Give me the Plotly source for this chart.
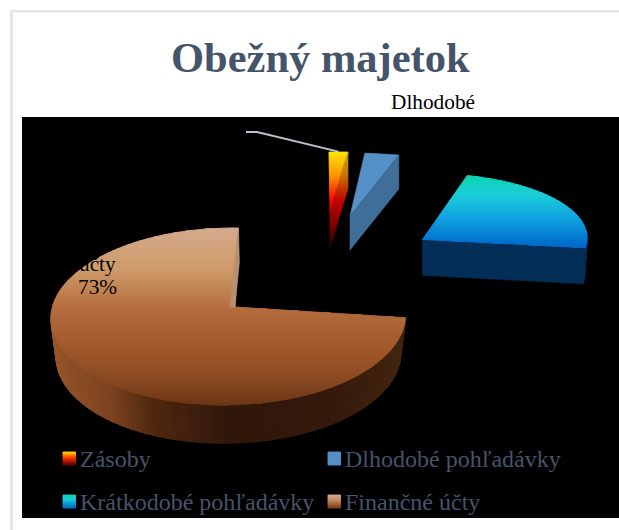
import math
import plotly.graph_objects as go

# ---- data ----
categories = ["Zásoby", "Dlhodobé pohľadávky", "Krátkodobé pohľadávky", "Finančné účty"]
shares = [1, 3, 23, 73]

# ---- styling / layout (pixel space of the 619x530 page) ----
W, H = 619, 530
TEXT = "#44546A"
SERIF = "Liberation Serif, Times New Roman, serif"

# per-slice projection: apex, radii, perspective, shear, depth, wall shrink
geom = [
    dict(ax=330, ay=212, rx=300, ry=60, k=0, m=0, s=-1, depth=36, shrink=1.0, shrink_y=1.0),
    dict(ax=350, ay=216, rx=183, ry=63, k=0, m=0, s=3.4, depth=34, shrink=1.0, shrink_y=1.0),
    dict(ax=422.5, ay=239.5, rx=164.5, ry=66, k=0, m=0, s=4, depth=36, shrink=0.985, shrink_y=0.985),
    dict(ax=235, ay=307, rx=176, ry=87.5, k=0.107, m=0.035, s=3.8, depth=38, shrink=0.972, shrink_y=1.0),
]
top_stops = [
    [(152, "#FFE600"), (175, "#FF9800"), (200, "#FF0800"), (230, "#8E0000"), (248, "#2A0000")],
    [(0, "#5590C6"), (999, "#5590C6")],
    [(176, "#0BD3AE"), (195, "#1CCEDA"), (220, "#0FA0E0"), (245, "#006CCB")],
    [(228, "#D5AA8E"), (270, "#CE9B69"), (310, "#B46C3E"), (350, "#A0582A"), (380, "#8A4A22"), (405, "#6C3716")],
]
wall_stops = [
    [(0, "#000000"), (999, "#000000")],
    [(0, "#3F6F98"), (999, "#3F6F98")],
    [(420, "#022E58"), (480, "#012A53"), (590, "#002A55")],
    [(50, "#96552A"), (110, "#7C4220"), (150, "#502810"), (230, "#2F170A"), (330, "#36190B"), (405, "#42260F")],
]


def hex2rgb(c):
    return tuple(int(c[i:i + 2], 16) for i in (1, 3, 5))


def ramp(stops, p):
    if p <= stops[0][0]:
        return stops[0][1]
    for (p0, c0), (p1, c1) in zip(stops, stops[1:]):
        if p <= p1:
            f = (p - p0) / (p1 - p0)
            a, b = hex2rgb(c0), hex2rgb(c1)
            return "#%02X%02X%02X" % tuple(round(x + (y - x) * f) for x, y in zip(a, b))
    return stops[-1][1]


def project(g, deg, r=1.0, wall=False):
    u = r * math.sin(math.radians(deg))
    v = r * math.cos(math.radians(deg))
    w = 1 + g["k"] * v + g["m"] * u
    dx = (g["rx"] * u + g["s"] * v) / w
    dy = -g["ry"] * v / w
    if wall:
        return g["ax"] + dx * g["shrink"], g["ay"] + dy * g["shrink_y"] + g["depth"]
    return g["ax"] + dx, g["ay"] + dy


def clip_band(poly, y0, y1):
    def clip(points, inside, cross):
        out = []
        for a, b in zip(points, points[1:] + points[:1]):
            if inside(a):
                out.append(a)
            if inside(a) != inside(b):
                out.append(cross(a, b))
        return out

    def cross_at(y):
        return lambda a, b: (a[0] + (b[0] - a[0]) * (y - a[1]) / (b[1] - a[1]), y)

    res = clip(poly, lambda p: p[1] >= y0, cross_at(y0))
    if res:
        res = clip(res, lambda p: p[1] <= y1, cross_at(y1))
    return res


fig = go.Figure()


def add_poly(pts, color, name=None, lw=0.6):
    fig.add_trace(go.Scatter(
        x=[p[0] for p in pts] + [pts[0][0]], y=[p[1] for p in pts] + [pts[0][1]],
        mode="lines", fill="toself", fillcolor=color,
        line=dict(color=color, width=lw), hoverinfo="skip", showlegend=False, name=name,
    ))


def add_gradient(poly, stops, step=2, name=None):
    ys = [p[1] for p in poly]
    y = math.floor(min(ys))
    while y < max(ys):
        band = clip_band(poly, y, y + step)
        if len(band) >= 3:
            add_poly(band, ramp(stops, y + step / 2), name, lw=0.9)
        y += step


# angles of every slice come from the shares
starts, acc = [], 0.0
for v in shares:
    starts.append(acc)
    acc += v * 3.6

for i, (name, share) in enumerate(zip(categories, shares)):
    g = geom[i]
    a0, a1 = starts[i], starts[i] + share * 3.6
    n = max(3, int((a1 - a0) / 1.5))
    arc = [a0 + (a1 - a0) * j / n for j in range(n + 1)]
    top = [project(g, 0, 0)] + [project(g, t) for t in arc]

    if i == 0:
        # yellow-red sliver: side wall is a darker copy of the same ramp
        wall = [project(g, a1), project(g, a1, wall=True), project(g, 0, 0, wall=True), project(g, 0, 0)]
        dark = [(p, "#%02X%02X%02X" % tuple(int(x * 0.78) for x in hex2rgb(c))) for p, c in top_stops[0]]
        add_gradient(top, top_stops[0], 2, name)
        add_gradient(wall, dark, 2, name)
    elif i == 1:
        wall = [project(g, a1), project(g, a1, wall=True), project(g, 0, 0, wall=True), project(g, 0, 0)]
        add_poly(top, top_stops[1][0][1], name)
        add_poly(wall, wall_stops[1][0][1], name)
    else:
        visible = [t for t in arc if t <= 290]
        for t0, t1 in zip(visible, visible[1:]):
            q = [project(g, t0), project(g, t1), project(g, t1, wall=True), project(g, t0, wall=True)]
            add_poly(q, ramp(wall_stops[i], (q[0][0] + q[1][0]) / 2), name, lw=1.4)
        if i == 2:
            q = [project(g, 0, 0), project(g, a1), project(g, a1, wall=True), project(g, 0, 0, wall=True)]
            add_poly(q, wall_stops[2][0][1], name)
        add_gradient(top, top_stops[i], 2, name)
        if i == 3:
            # thin cut face next to the gap
            e = project(g, a1 - 0.01)
            c = project(g, 0, 0)
            add_poly([e, (e[0] + 1, e[1] + 34), c, (c[0] - 5, c[1])], "#B8906E", name)

# leader line of the Zásoby label
z = project(geom[0], starts[0] + 1.8)
fig.add_trace(go.Scatter(x=[246, 257, z[0]], y=[132, 132, z[1] - 0.5], mode="lines",
                         line=dict(color="#B9C3CF", width=1.8), hoverinfo="skip", showlegend=False))

# legend: gradient swatches with text
swatch_pos = [(63, 452), (328, 452), (63, 495), (328, 495)]
swatch_stops = [
    [(0, "#FFE600"), (0.5, "#FF3000"), (1, "#600000")],
    [(0, "#5590C6"), (1, "#5590C6")],
    [(0, "#0BD3AE"), (0.35, "#1CCEDA"), (1, "#006CCB")],
    [(0, "#D5AA8E"), (0.45, "#C08A60"), (1, "#7A3F1A")],
]
ann = []
for (sx, sy), st, name in zip(swatch_pos, swatch_stops, categories):
    scaled = [(sy + p * 13, c) for p, c in st]
    add_gradient([(sx, sy), (sx + 12.5, sy), (sx + 12.5, sy + 13), (sx, sy + 13)], scaled, 1, name)
    ann.append(dict(x=sx + 14.5, y=sy + 7, text=name, xanchor="left", yanchor="middle", showarrow=False,
                    font=dict(family=SERIF, size=24, color=TEXT)))

ann += [
    dict(x=320, y=57, text="<b>Obežný majetok</b>", showarrow=False, xanchor="center", yanchor="middle",
         font=dict(family=SERIF, size=42.5, color=TEXT)),
    dict(x=433, y=102, text="Dlhodobé", showarrow=False, xanchor="center", yanchor="middle",
         font=dict(family=SERIF, size=21.3, color="#000000")),
    dict(x=97, y=264, text="účty", showarrow=False, xanchor="center", yanchor="middle",
         font=dict(family=SERIF, size=21.3, color="#000000")),
    dict(x=97, y=287, text="73%", showarrow=False, xanchor="center", yanchor="middle",
         font=dict(family=SERIF, size=21.3, color="#000000")),
]

BORDER = "#E3E8EF"
fig.update_layout(
    width=W, height=H, margin=dict(l=0, r=0, t=0, b=0),
    paper_bgcolor="#FFFFFF", plot_bgcolor="#FFFFFF", showlegend=False,
    xaxis=dict(range=[0, W], visible=False, fixedrange=True),
    yaxis=dict(range=[H, 0], visible=False, fixedrange=True),
    annotations=ann,
    shapes=[
        dict(type="rect", x0=10, x1=13, y0=10, y1=H, fillcolor=BORDER, line_width=0, layer="below"),
        dict(type="rect", x0=10, x1=W, y0=10, y1=12.5, fillcolor=BORDER, line_width=0, layer="below"),
        dict(type="rect", x0=22, x1=W, y0=117, y1=518, fillcolor="#000000", line_width=0, layer="below"),
    ],
)
fig.write_html("out.html", config={"displayModeBar": False},
               post_script="document.body.style.margin='0';document.body.style.overflow='hidden';")
